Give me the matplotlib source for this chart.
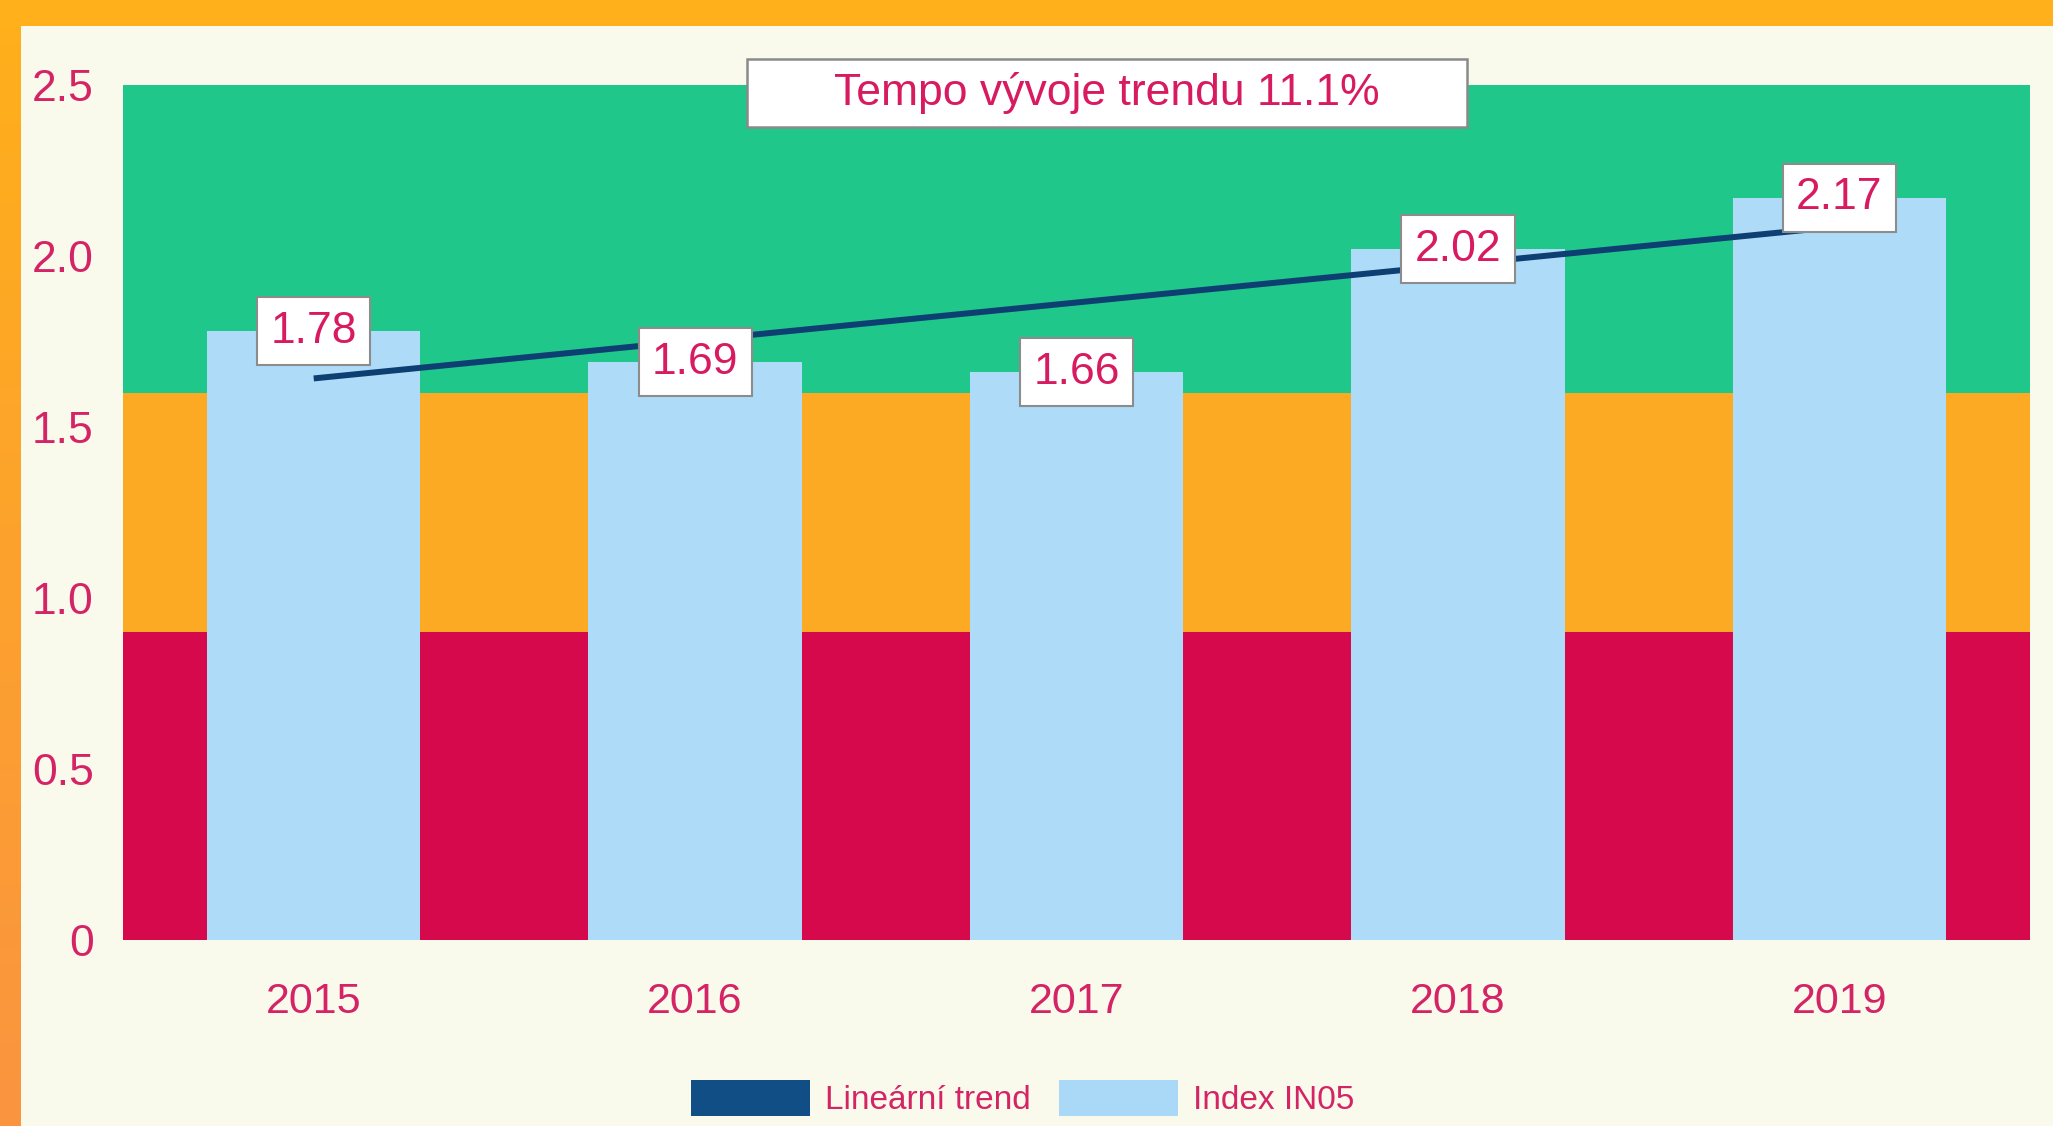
import numpy as np
import matplotlib
matplotlib.use('Agg')
import matplotlib.pyplot as plt
from matplotlib.patches import Patch, Rectangle
from matplotlib.colors import LinearSegmentedColormap

# data
years = ['2015', '2016', '2017', '2018', '2019']
index_in05 = [1.78, 1.69, 1.66, 2.02, 2.17]
band_edges = [0, 0.9, 1.6, 2.5]
band_colors = ['#D6094C', '#FCAA24', '#20C78A']
ytick_vals = [0, 0.5, 1.0, 1.5, 2.0, 2.5]
ytick_labels = ['0', '0.5', '1.0', '1.5', '2.0', '2.5']
title_text = 'Tempo vývoje trendu 11.1%'
legend_labels = ['Lineární trend', 'Index IN05']

# colors
cream = '#F9F9EC'
text_col = '#D42466'
label_col = '#D81B60'
bar_col = '#AEDBF8'
navy = '#0E3F73'

plt.rcParams['font.family'] = ['Liberation Sans', 'DejaVu Sans']

fig = plt.figure(figsize=(20.53, 11.26), dpi=100, facecolor=cream)

# orange frame: top strip and left gradient strip
fig.patches.append(Rectangle((0, 1 - 26 / 1126), 1, 26 / 1126, transform=fig.transFigure,
                             facecolor='#FFB01A', edgecolor='none', zorder=0))
lax = fig.add_axes([0, 0, 21 / 2053, 1])
grad = np.linspace(0, 1, 256).reshape(-1, 1)
cmap = LinearSegmentedColormap.from_list('edge', ['#FFB01A', '#FA9440'])
lax.imshow(grad, aspect='auto', cmap=cmap, extent=[0, 1, 0, 1], origin='upper')
lax.axis('off')

ax = fig.add_axes([123 / 2053, 1 - 940 / 1126, (2030 - 123) / 2053, (940 - 85) / 1126])
ax.set_facecolor(cream)

x = np.arange(len(years))

# colored bands behind the bars
for lo, hi, c in zip(band_edges[:-1], band_edges[1:], band_colors):
    ax.axhspan(lo, hi, color=c, zorder=0, lw=0)

ax.bar(x, index_in05, width=0.56, color=bar_col, zorder=2)

# linear trend through the index values
k, q = np.polyfit(x, index_in05, 1)
ax.plot(x, k * x + q, color=navy, lw=4.3, solid_capstyle='butt', zorder=3)

# value labels in white boxes
for xi, v in zip(x, index_in05):
    ax.text(xi, v, f'{v:.2f}', ha='center', va='center', fontsize=32, color=label_col, zorder=5,
            bbox=dict(boxstyle='square,pad=0.3', facecolor='white', edgecolor='#8C8C8C', lw=1.5))

# title box on top edge
ax.add_patch(Rectangle((0.3272, 0.9509), 0.3776, 0.0795, transform=ax.transAxes, facecolor='white',
                       edgecolor='#8A8A8A', lw=1.8, clip_on=False, zorder=6))
ax.text(0.516, 0.9906, title_text, transform=ax.transAxes, ha='center', va='center',
        fontsize=32, color=label_col, zorder=7)

ax.set_xlim(-0.5, 4.5)
ax.set_ylim(0, 2.5)
ax.set_xticks(x)
ax.set_xticklabels(years)
ax.set_yticks(ytick_vals)
ax.set_yticklabels(ytick_labels)
ax.tick_params(axis='x', length=0, pad=30, labelsize=31, labelcolor=text_col)
ax.tick_params(axis='y', which='major', length=0, pad=21, labelsize=32, labelcolor=text_col)
ax.set_yticks([0], minor=True)
ax.tick_params(axis='y', which='minor', length=18, width=2, color='#BDBDBD')
for s in ax.spines.values():
    s.set_visible(False)

handles = [Patch(facecolor='#124E86', edgecolor='none'), Patch(facecolor='#A9D9F7', edgecolor='none')]
fig.legend(handles, legend_labels, loc='center', bbox_to_anchor=(0.498, 0.025), ncol=2,
           frameon=False, fontsize=24, labelcolor=text_col, handlelength=3.57, handleheight=1.3,
           handletextpad=0.45, columnspacing=0.84, borderpad=0)

fig.savefig('out.png', dpi=100, facecolor=cream)
